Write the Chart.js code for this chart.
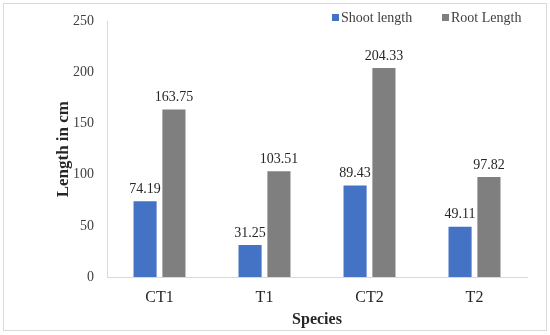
<!DOCTYPE html>
<html><head><meta charset="utf-8">
<script src="https://cdn.jsdelivr.net/npm/chart.js@4"></script>
<style>html,body{margin:0;padding:0;background:#fff}#wrap{width:550px;height:335px;position:relative}</style>
</head><body><div id="wrap"><canvas id="c" width="550" height="335"></canvas></div>
<script>
const categories = ["CT1", "T1", "CT2", "T2"];
const shootLength = [74.19, 31.25, 89.43, 49.11];
const rootLength = [163.75, 103.51, 204.33, 97.82];
const seriesNames = ["Shoot length", "Root Length"];
const yTicks = [0, 50, 100, 150, 200, 250];

const FONT = "'Liberation Serif', 'Times New Roman', serif";

const extras = {
  id: 'extras',
  afterDatasetsDraw(chart) {
    const ctx = chart.ctx;
    ctx.save();
    // data labels
    ctx.font = "14px " + FONT;
    ctx.fillStyle = "#262626";
    ctx.textAlign = "center";
    ctx.textBaseline = "bottom";
    chart.data.datasets.forEach((ds, i) => {
      chart.getDatasetMeta(i).data.forEach((bar, j) => {
        ctx.fillText(ds.data[j].toFixed(2), bar.x, bar.y - 5);
      });
    });
    // legend
    ctx.font = "14px " + FONT;
    ctx.textAlign = "left";
    ctx.textBaseline = "middle";
    const lx = [332, 442];
    chart.data.datasets.forEach((ds, i) => {
      ctx.fillStyle = ds.backgroundColor;
      ctx.fillRect(lx[i], 14, 7, 7);
      ctx.fillStyle = "#404040";
      ctx.fillText(ds.label, lx[i] + 9, 18);
    });
    // outer border
    ctx.strokeStyle = "#d9d9d9";
    ctx.lineWidth = 1;
    ctx.strokeRect(3.5, 3.5, 543, 327);
    ctx.restore();
  }
};

new Chart(document.getElementById('c'), {
  type: 'bar',
  data: {
    labels: categories,
    datasets: [
      { label: seriesNames[0], data: shootLength, backgroundColor: "#4472C4", barPercentage: 0.8, categoryPercentage: 0.55 },
      { label: seriesNames[1], data: rootLength, backgroundColor: "#7F7F7F", barPercentage: 0.8, categoryPercentage: 0.55 }
    ]
  },
  options: {
    responsive: false,
    animation: false,
    devicePixelRatio: 1,
    layout: { padding: { left: 50, right: 23, top: 19, bottom: 4 } },
    plugins: { legend: { display: false }, tooltip: { enabled: false } },
    scales: {
      x: {
        grid: { display: false, drawTicks: false },
        border: { color: "#d9d9d9" },
        ticks: { font: { family: FONT, size: 16 }, color: "#262626", padding: 11 },
        title: { display: true, text: "Species", font: { family: FONT, size: 16, weight: "bold" }, color: "#262626", padding: { top: 4, bottom: 2 } },
        afterFit(s) { s.height = 335 - 277 - 4; }
      },
      y: {
        min: 0, max: 250,
        afterBuildTicks(s) { s.ticks = yTicks.map(v => ({ value: v })); },
        grid: { display: false, drawTicks: false },
        border: { color: "#d9d9d9" },
        ticks: { font: { family: FONT, size: 14 }, color: "#404040", padding: 13 },
        title: { display: true, text: "Length in cm", font: { family: FONT, size: 17, weight: "bold" }, color: "#262626", padding: { top: 3, bottom: 4 } },
        afterFit(s) { s.width = 107 - 50; }
      }
    }
  },
  plugins: [extras]
});
</script></body></html>
